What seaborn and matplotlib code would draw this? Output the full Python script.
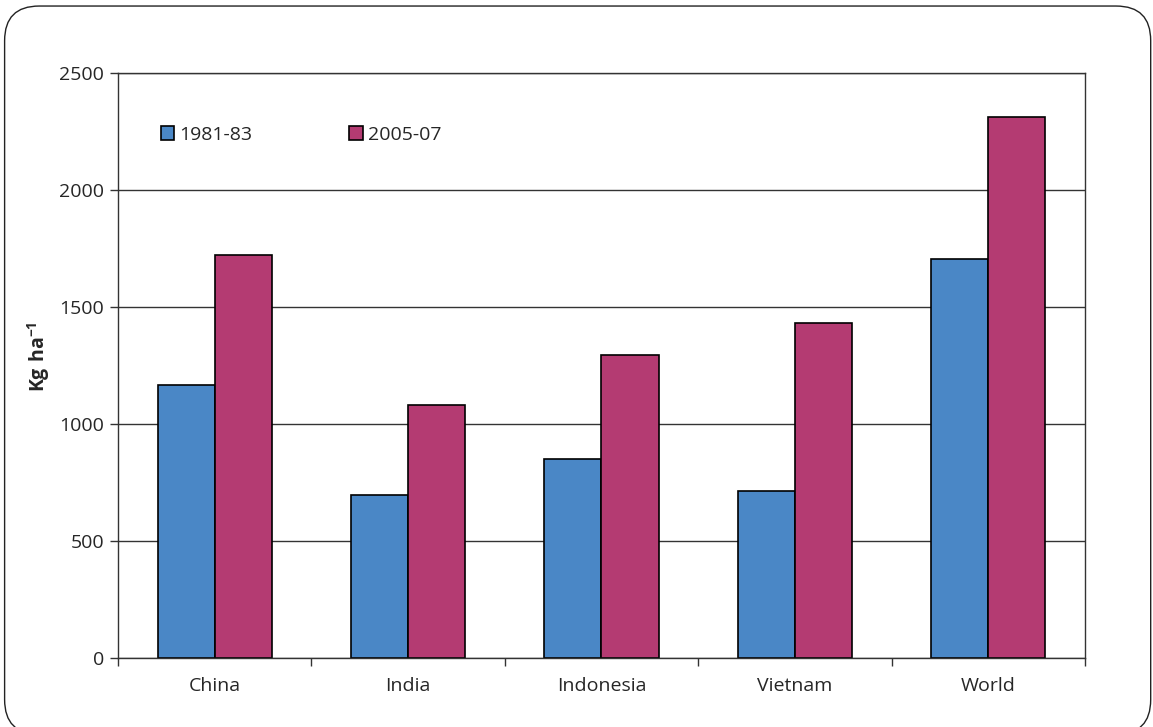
import matplotlib
matplotlib.use("Agg")
import matplotlib.pyplot as plt
import seaborn as sns
import pandas as pd
import numpy as np
from matplotlib.patches import FancyBboxPatch

categories = ["China", "India", "Indonesia", "Vietnam", "World"]
series_names = ["1981-83", "2005-07"]
values_1981 = [1168, 698, 850, 712, 1705]
values_2005 = [1720, 1080, 1295, 1430, 2310]
yticks = [0, 500, 1000, 1500, 2000, 2500]

df = pd.DataFrame({
    "Country": categories * 2,
    "Period": [series_names[0]] * len(categories) + [series_names[1]] * len(categories),
    "Yield": values_1981 + values_2005,
})

sns.set_theme(style="white")
plt.rcParams["font.family"] = ["Open Sans", "DejaVu Sans"]
plt.rcParams["mathtext.fontset"] = "custom"
plt.rcParams["mathtext.rm"] = "Open Sans"
plt.rcParams["mathtext.bf"] = "Open Sans:bold"

FS = 14

fig = plt.figure(figsize=(11.53, 7.27), dpi=100)
ax = fig.add_axes([0.1023, 0.095, 0.8387, 0.8046])

palette = {"1981-83": "#4A87C6", "2005-07": "#B43B72"}
sns.barplot(data=df, x="Country", y="Yield", hue="Period", palette=palette,
            width=0.59, edgecolor="black", linewidth=1.2, saturation=1, ax=ax)

ax.set_ylim(0, 2500)
ax.set_xlim(-0.5, len(categories) - 0.5)
ax.set_yticks(yticks)
ax.set_yticklabels([str(t) for t in yticks], fontsize=FS)
ax.yaxis.grid(True, color="#333333", linewidth=1)
ax.set_axisbelow(True)
ax.tick_params(axis="y", which="major", left=True, length=6, width=1, color="#333333", pad=4)
ax.tick_params(axis="x", which="major", bottom=False, labelsize=FS, pad=8)
ax.set_xticks(np.arange(-0.5, len(categories)), minor=True)
ax.tick_params(axis="x", which="minor", bottom=True, length=6, width=1, color="#333333")
ax.set_xlabel("")
ax.set_ylabel(r"$\mathbf{Kg\ ha^{-1}}$", fontsize=FS, labelpad=2)
ax.yaxis.set_label_coords(-0.068, 0.515)
for s in ["left", "right", "top", "bottom"]:
    ax.spines[s].set_visible(True)
    ax.spines[s].set_color("#333333")
    ax.spines[s].set_linewidth(1)

leg = ax.legend(ncol=2, loc="upper left", bbox_to_anchor=(0.026, 0.94), frameon=False,
                fontsize=FS, handlelength=0.7, handleheight=0.7, handletextpad=0.25,
                columnspacing=5.0, title=None)

box = FancyBboxPatch((0.004, -0.01), 0.994, 1.0017, boxstyle="round,pad=0,rounding_size=0.03",
                     transform=fig.transFigure, fill=False, edgecolor="#222222", linewidth=1,
                     mutation_aspect=1153 / 727)
fig.patches.append(box)

fig.savefig("out.png", dpi=100)
